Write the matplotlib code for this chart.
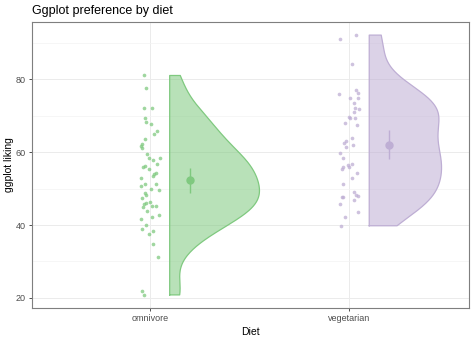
import matplotlib
matplotlib.use('Agg')
import matplotlib.pyplot as plt
import numpy as np

plt.rcParams['font.family'] = ['Liberation Sans', 'DejaVu Sans']

diets = ['omnivore', 'vegetarian']
colors = ['#7FC97F', '#BEAED4']

omnivore = [81.1, 77.6, 72.3, 72.2, 69.3, 68.3, 67.9, 65.8, 64.9, 63.6, 62.4, 61.8, 61.3,
            59.4, 58.4, 58.4, 57.8, 56.9, 56.0, 56.2, 55.4, 54.3, 53.9, 53.5, 52.8, 51.2,
            50.7, 51.2, 49.8, 49.6, 48.9, 48.2, 47.3, 46.4, 45.8, 46.0, 45.1, 44.9, 45.1,
            43.9, 42.3, 42.7, 41.6, 40.1, 39.0, 38.4, 37.5, 34.8, 31.2, 22.0, 20.8]
omnivore_jit = [-5.7, -3.3, -6.0, 2.7, -4.3, -3.3, 1.0, 7.7, 4.7, -5.0, -8.0, -9.0, -7.7,
                -2.7, -1.0, 10.0, 3.3, 7.7, -6.7, -4.3, -0.7, 6.7, 4.3, 3.3, -9.0, -5.0,
                -8.3, 6.0, 1.3, 9.3, -4.3, -4.0, -7.7, 0.7, -6.0, -3.3, 2.7, -6.7, 6.7,
                -2.7, 2.3, 9.0, -8.7, -4.0, -7.3, 3.0, -0.7, 3.7, 8.3, -7.3, -6.0]

vegetarian = [92.2, 91.0, 84.3, 77.0, 76.1, 76.3, 74.9, 75.0, 73.5, 72.1, 72.0, 71.0, 69.7,
              69.4, 69.4, 68.0, 67.5, 63.8, 63.0, 62.5, 61.9, 61.5, 59.8, 58.4, 56.9, 56.6,
              56.0, 56.0, 55.3, 54.2, 53.0, 51.2, 49.0, 48.2, 48.0, 47.8, 47.8, 47.0, 45.8,
              43.6, 42.1, 39.8]
vegetarian_jit = [6.7, -9.0, 2.3, 6.7, -10.0, 9.0, 8.3, 1.0, 4.7, 6.0, 9.3, 4.3, -0.7,
                  1.0, 6.0, -4.3, 7.7, 2.3, -3.3, -5.7, 4.0, -3.3, -9.0, -6.7, 2.3, -1.7,
                  -6.7, 0.0, -7.7, 7.7, 2.3, -6.7, 5.0, 6.7, 9.0, -7.7, -6.0, 5.0, -9.0,
                  9.0, -4.3, -8.3]

groups = [np.array(omnivore), np.array(vegetarian)]
jitters = [np.array(omnivore_jit) / 200, np.array(vegetarian_jit) / 200]


def kde(v):
    n = len(v)
    iqr = np.subtract(*np.percentile(v, [75, 25]))
    bw = 0.9 * min(v.std(ddof=1), iqr / 1.34) * n ** -0.2
    grid = np.linspace(v.min(), v.max(), 300)
    dens = np.exp(-0.5 * ((grid[:, None] - v[None, :]) / bw) ** 2).sum(1) / (n * bw * np.sqrt(2 * np.pi))
    return grid, dens


kdes = [kde(g) for g in groups]
dmax = max(d.max() for _, d in kdes)

fig = plt.figure(figsize=(4.74, 3.38), dpi=100)
ax = fig.add_axes([32 / 474, 30 / 338, 437 / 474, 286 / 338])

for i, (g, jit, (grid, dens), c) in enumerate(zip(groups, jitters, kdes, colors)):
    pos = i + 1
    base = pos + 0.1
    w = dens / dmax * 0.45
    ax.fill_betweenx(grid, base, base + w, facecolor=c, alpha=0.55, edgecolor='none', zorder=2)
    xs = np.concatenate([[base], base + w, [base, base]])
    ys = np.concatenate([[grid[0]], grid, [grid[-1], grid[0]]])
    ax.plot(xs, ys, color=c, lw=0.9, zorder=3)
    ax.scatter(pos + jit, g, s=7, color=c, alpha=0.75, lw=0, zorder=3)
    m = g.mean()
    ci = 1.96 * g.std(ddof=1) / np.sqrt(len(g))
    ax.errorbar(pos + 0.2, m, yerr=ci, fmt='o', color=c, ms=5, elinewidth=1, zorder=4)

ax.set_xlim(0.41, 2.6)
ax.set_ylim(17.2, 95.8)
ax.set_xticks([1, 2])
ax.set_xticklabels(diets)
ax.set_yticks([20, 40, 60, 80])
ax.set_yticks([30, 50, 70, 90], minor=True)
ax.grid(True, which='major', color='#ebebeb', lw=0.7)
ax.grid(True, which='minor', axis='y', color='#f3f3f3', lw=0.5)
ax.set_axisbelow(True)
for s in ax.spines.values():
    s.set_color('#7f7f7f')
    s.set_linewidth(0.8)
ax.tick_params(which='major', labelsize=6.5, labelcolor='#4d4d4d', color='#333333',
               length=2.5, width=0.6, pad=2)
ax.tick_params(which='minor', length=0)
ax.set_xlabel('Diet', fontsize=7.5, labelpad=3)
ax.set_ylabel('ggplot liking', fontsize=7.5, labelpad=1)
ax.set_title('Ggplot preference by diet', fontsize=9, loc='left', pad=6)

fig.savefig('out.png', dpi=100)
